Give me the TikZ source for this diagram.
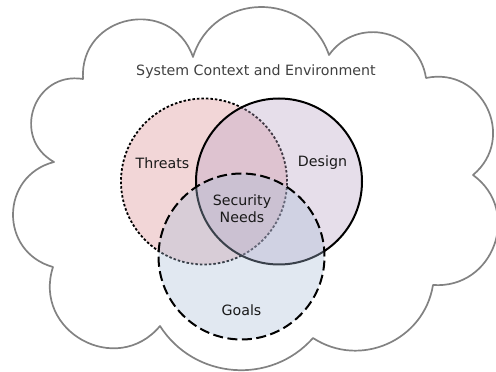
\documentclass[tikz,border=0pt]{standalone}
\usepackage{fontspec}
\setmainfont{DejaVu Sans}
\definecolor{cloudgray}{RGB}{130,130,130}
\definecolor{threatred}{RGB}{218,138,141}
\definecolor{designviolet}{RGB}{184,161,195}
\definecolor{goalblue}{RGB}{169,189,215}
\tikzset{
  venn/.style={line width=1.8pt, fill opacity=.35},
  venntext/.style={font=\fontsize{14.2}{17}\selectfont, text=black!90, align=center}
}

\begin{document}
\begin{tikzpicture}[x=1pt,y=1pt]
\useasboundingbox (0,0) rectangle (496,372);

% the cloud
\draw[cloudgray, line width=1.7pt, line join=round]
  (83,293) coordinate (A) to[bend left=82, looseness=1.49]
  (193,315) coordinate (B) to[bend left=72, looseness=1.29]
  (329,317) coordinate (C) to[bend left=68, looseness=1.25]
  (426,294) coordinate (D) to[bend left=76, looseness=1.37]
  (473,197) coordinate (E) to[bend left=74, looseness=1.33]
  (433,87) coordinate (F) to[bend left=57, looseness=1.10]
  (313,34) coordinate (G) to[bend left=53, looseness=1.06]
  (160,46) coordinate (H) to[bend left=79, looseness=1.42]
  (53,105) coordinate (I) to[bend left=75, looseness=1.36]
  (54,210) coordinate (J) to[bend left=80, looseness=1.45]
  cycle;

\coordinate (T) at (204,190.5);
\coordinate (S) at (279,190.5);
\coordinate (O) at (241.5,115.5);

\draw[venn, fill=threatred, dash pattern=on 2.5pt off 2pt] (T) circle (83);
\draw[venn, fill=designviolet, line width=2pt] (S) circle (83);
\draw[venn, fill=goalblue, line width=2pt, dash pattern=on 10pt off 4.5pt] (O) circle (83);

\node[venntext, text=black!75] (context) at (256,300) {System Context and Environment};
\node[venntext] (threats) at (162.5,209) {Threats};
\node[venntext] (design) at (322.5,209) {Design};
\node[venntext] (needs) at (242,163.5) {Security\\Needs};
\node[venntext] (goals) at (241.5,62) {Goals};
\end{tikzpicture}
\end{document}
